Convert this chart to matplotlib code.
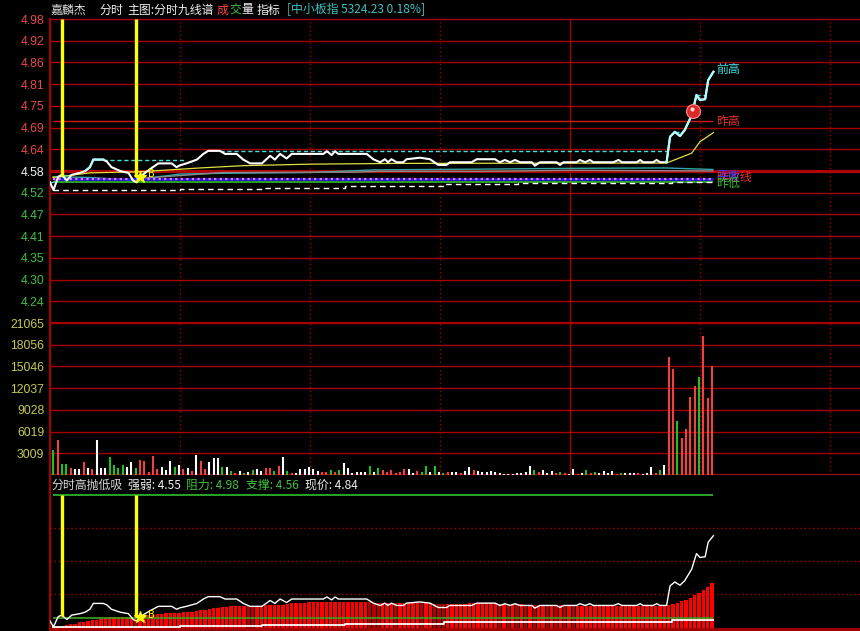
import numpy as np
import matplotlib.pyplot as plt

plt.rcParams['font.family'] = ['Noto Sans CJK SC', 'DejaVu Sans']

W, H = 860, 631
PX_PER_MIN = 4.333
T_MAX = 810 / PX_PER_MIN

# ---- price line vertices (minute, price) ----
price_t = [0.0, 0.8, 1.9, 2.7, 3.9, 5.0, 6.9, 8.1, 9.2, 10.0,
           12.3, 13.1, 14.2, 16.2, 18.1, 19.2, 20.0, 20.8, 23.1, 25.0,
           28.1, 29.2, 30.0, 31.5, 33.9, 35.4, 36.5, 39.2, 40.4, 43.1,
           44.6, 46.2, 48.9, 50.8, 51.9, 53.1, 54.6, 55.8, 63.1, 63.9,
           65.0, 65.8, 66.5, 73.1, 74.6, 76.2, 77.3, 78.0, 78.8, 80.0,
           81.5, 82.3, 85.4, 87.7, 89.6, 91.5, 92.3, 97.3, 98.5, 102.7,
           103.8, 105.0, 106.2, 107.3, 108.5, 111.2, 111.9, 113.1, 116.9, 117.7,
           118.5, 121.5, 122.3, 123.5, 124.6, 125.4, 130.0, 131.2, 132.0, 135.4,
           136.2, 136.9, 139.2, 140.0, 140.8, 142.3, 143.1, 144.2, 145.4, 146.5,
           148.1, 149.2, 150.0, 151.2, 151.9, 153.1]
price_p = [4.55, 4.53, 4.565, 4.57, 4.555, 4.57, 4.575, 4.58, 4.59, 4.61,
           4.61, 4.605, 4.59, 4.58, 4.575, 4.555, 4.55, 4.565, 4.585, 4.60,
           4.60, 4.59, 4.595, 4.60, 4.61, 4.625, 4.633, 4.633, 4.625, 4.625,
           4.61, 4.60, 4.60, 4.62, 4.61, 4.625, 4.613, 4.625, 4.625, 4.632,
           4.622, 4.632, 4.625, 4.625, 4.611, 4.603, 4.611, 4.603, 4.611, 4.603,
           4.603, 4.611, 4.615, 4.611, 4.596, 4.596, 4.603, 4.603, 4.611, 4.611,
           4.603, 4.609, 4.603, 4.609, 4.603, 4.603, 4.594, 4.603, 4.603, 4.596,
           4.603, 4.603, 4.609, 4.603, 4.609, 4.603, 4.603, 4.609, 4.603, 4.603,
           4.609, 4.603, 4.603, 4.609, 4.603, 4.603, 4.670, 4.683, 4.672, 4.688,
           4.727, 4.780, 4.767, 4.769, 4.819, 4.841]

# average price line (yellow)
avg_t = [0.7, 9.2, 20.8, 34.6, 44.6, 60, 80, 142.3, 148.1, 150.0, 153.1]
avg_p = [4.563, 4.575, 4.578, 4.588, 4.594, 4.598, 4.600, 4.601, 4.627, 4.657, 4.681]

# other moving lines
teal_t = [0.7, 9, 19, 30, 40, 60, 75, 100, 120, 142, 153]
teal_p = [4.565, 4.563, 4.556, 4.572, 4.574, 4.576, 4.583, 4.585, 4.587, 4.588, 4.584]
gray_t = [20, 40, 70, 76, 100, 120, 153]
gray_p = [4.560, 4.576, 4.577, 4.579, 4.579, 4.582, 4.580]

# support steps (white dashed / white line in indicator)
sup_t = [0.7, 30, 49, 68, 91, 108, 143.5, 153]
sup_p = [4.531, 4.533, 4.536, 4.541, 4.545, 4.548, 4.552, 4.552]

pre_close = 4.58
prev_high = 4.711
strong = 4.55
resist = 4.98
support = 4.56
last_t = 153.1

price_labels = ['4.98', '4.92', '4.86', '4.81', '4.75', '4.69', '4.64',
                '4.58', '4.52', '4.47', '4.41', '4.35', '4.30', '4.24']
vol_labels = ['21065', '18056', '15046', '12037', '9028', '6019', '3009']
vol_max = 21065

# ---- per-minute volume ----
volume = [3470, 4850, 1530, 1530, 970, 790, 790, 1750, 970, 790,
          4850, 970, 970, 2480, 1390, 970, 1400, 1100, 1800, 1000,
          2030, 1930, 420, 2620, 790, 1060, 650, 1930, 1150, 1390,
          790, 970, 550, 2770, 1930, 790, 1800, 2360, 2360, 1060,
          1150, 550, 320, 550, 320, 420, 700, 830, 550, 970,
          970, 600, 1200, 2500, 550, 300, 300, 830, 830, 1150,
          830, 550, 350, 450, 700, 450, 700, 1700, 1020, 240,
          370, 460, 370, 1250, 460, 1020, 700, 460, 700, 240,
          370, 830, 830, 240, 550, 460, 1250, 460, 1300, 460,
          320, 370, 370, 370, 240, 600, 1060, 700, 550, 370,
          460, 550, 370, 240, 140, 200, 200, 240, 240, 370,
          1250, 700, 370, 700, 240, 550, 240, 460, 230, 150,
          830, 140, 320, 700, 320, 460, 320, 600, 320, 600,
          200, 320, 230, 320, 320, 230, 200, 230, 1160, 320,
          700, 1390, 16400, 14700, 7530, 5180, 6420, 10860, 12340, 13630,
          19320, 10720, 15160]
vol_dir = list("grggrwwrwr" "wwwggggwwg" "rrrrrwwwgw" "rwrwrrwwwg" "wgrwgwgwwr"
               "rgrwgrwwww" "wwrrgrgwww" "wwwgwgrrrr" "rrwwrggwgw" "grwwrwwrww"
               "wwwwwwwwww" "wgrwwwrgrw" "wrwgrgwwww" "rgwwwrwwwr" "gwrrgrrrrg"
               "rrr")

# ---- indicator bars (分时高抛低吸) ----
ind_bar = [4.530, 4.531, 4.533, 4.535, 4.539, 4.541, 4.545, 4.547, 4.550, 4.552,
           4.555, 4.559, 4.561, 4.563, 4.564, 4.565, 4.565, 4.565, 4.565, 4.564,
           4.565, 4.567, 4.569, 4.572, 4.574, 4.574, 4.576, 4.576, 4.577, 4.578,
           4.579, 4.580, 4.582, 4.584, 4.587, 4.589, 4.592, 4.593, 4.595, 4.597,
           4.599, 4.600, 4.601, 4.601, 4.601, 4.600, 4.599, 4.599, 4.599, 4.603,
           4.605, 4.605, 4.605, 4.606, 4.609, 4.610, 4.611, 4.612, 4.613, 4.614,
           4.614, 4.614, 4.615, 4.616, 4.616, 4.616, 4.616, 4.616, 4.616, 4.616,
           4.616, 4.616, 4.616, 4.614, 4.613, 4.612, 4.612, 4.612, 4.612, 4.611,
           4.611, 4.611, 4.611, 4.611, 4.611, 4.610, 4.610, 4.610, 4.609, 4.608,
           4.607, 4.607, 4.607, 4.608, 4.608, 4.609, 4.610, 4.610, 4.610, 4.610,
           4.610, 4.610, 4.610, 4.609, 4.609, 4.608, 4.608, 4.607, 4.607, 4.606,
           4.606, 4.605, 4.605, 4.605, 4.604, 4.604, 4.603, 4.603, 4.602, 4.602,
           4.601, 4.601, 4.601, 4.601, 4.601, 4.601, 4.601, 4.601, 4.601, 4.601,
           4.601, 4.601, 4.601, 4.601, 4.601, 4.601, 4.601, 4.601, 4.601, 4.601,
           4.601, 4.601, 4.604, 4.608, 4.612, 4.617, 4.623, 4.630, 4.638, 4.647,
           4.656, 4.666, 4.679]

signal_idx = [2, 19]
signal_p = [4.568, 4.563]
star_idx = 20
star_p = 4.565
ball_t, ball_p = 148.4, 4.738

GRID = '#a80000'
WHITE = '#f0f0f0'
CYAN = '#40e0e0'
GREEN = '#30c030'
RED_TXT = '#e84848'
YELLOW = '#ffff00'

bar_t = np.arange(len(volume)) + 0.77
price_t = np.array(price_t)
price_p = np.array(price_p)

fig = plt.figure(figsize=(W / 100, H / 100), dpi=100, facecolor='black')


def panel(top, bottom):
    ax = fig.add_axes([50 / W, 1 - bottom / H, 810 / W, (bottom - top) / H])
    ax.set_facecolor('black')
    for s in ax.spines.values():
        s.set_visible(False)
    ax.set_xlim(0, T_MAX)
    ax.set_xticks([])
    ax.tick_params(axis='y', length=0, pad=4)
    ax.axvline(0, color=GRID, lw=1.5, clip_on=False)
    return ax


def vgrid(ax):
    for v in [30, 60, 90, 150, 180]:
        ax.axvline(v, color=GRID, lw=1, ls=(0, (1, 2)))
    ax.axvline(120, color=GRID, lw=1)


# ================= price panel =================
ax1 = panel(19, 323)
ax1.set_ylim(4.18, 4.98)
step = 0.4 / 7
pticks = [pre_close + (7 - k) * step for k in range(14)]
ax1.set_yticks(pticks)
ax1.set_yticklabels(price_labels, fontfamily='Liberation Sans', fontsize=8.8)
for tk, lab in zip(pticks, ax1.get_yticklabels()):
    if tk > pre_close + 1e-6:
        lab.set_color(RED_TXT)
    elif tk < pre_close - 1e-6:
        lab.set_color('#40c040')
    else:
        lab.set_color(WHITE)
for y in pticks:
    ax1.axhline(y, color=GRID, lw=1, clip_on=False)
ax1.axhline(4.18, color=GRID, lw=2.2, clip_on=False)
ax1.axhline(pre_close, color='#b00000', lw=2.2)
vgrid(ax1)
ax1.hlines(prev_high, 0.7, last_t, color='#d01818', lw=1)

ax1.plot(teal_t, teal_p, color='#30a8a8', lw=1)
ax1.plot(gray_t, gray_p, color='#8a8a8a', lw=1)
ax1.plot(avg_t, avg_p, color='#e0e040', lw=0.9)
ax1.hlines(support, 0.7, last_t, color='#2020ff', lw=1.8)
ax1.hlines(support, 0.7, last_t, color='#ff70ff', lw=1.6, ls=(0, (1, 1.5)))
ax1.hlines(strong, 0.7, last_t, color=GREEN, lw=1.2)
ax1.plot(sup_t, sup_p, color='white', lw=1, ls=(0, (4, 3)), drawstyle='steps-post')

# running high, dashed where price is below it
run_hi = np.maximum.accumulate(price_p)
below = price_p < run_hi - 1e-9
keep = below | np.append(below[1:], False)
hi_line = np.where(keep, run_hi, np.nan)
ax1.plot(price_t, hi_line, color=CYAN, lw=1, ls=(0, (3, 2)))

ax1.plot(price_t, price_p, color='white', lw=1.5)
for a, b in [(8.1, 12.3), (142.3, 153.1)]:
    m = (price_t >= a - 1e-6) & (price_t <= b + 1e-6)
    ax1.plot(price_t[m], price_p[m], color='#a8ffff', lw=1.5)

sig_t = np.array(signal_idx) + 0.77
ax1.vlines(sig_t, signal_p, 4.98, color=YELLOW, lw=2.4)
ax1.plot(star_idx + 0.77, star_p, marker='*', color=YELLOW, ms=9, ls='none')
ax1.text(star_idx + 2.6, star_p + 0.008, 'B', color=YELLOW, fontsize=7,
         fontfamily='DejaVu Sans', va='center')

ax1.plot(ball_t, ball_p, marker='o', ms=10, mfc='#d82828', mec='#ff9090', mew=0.8, ls='none')
ax1.plot(ball_t - 0.3, ball_p + 0.006, marker='o', ms=3, mfc='#ffd0d0', mec='none', ls='none')

lab_t = 153.7
ax1.text(lab_t, 4.848, '前高', color=CYAN, fontsize=8.6, va='center')
ax1.text(lab_t, prev_high, '昨高', color='#e83030', fontsize=8.6, va='center')
ax1.text(lab_t, 4.562, '昨收线', color='#e83030', fontsize=8.6, va='center')
ax1.text(lab_t, 4.566, '平衡', color='#3838ff', fontsize=8.6, va='center')
ax1.text(lab_t, 4.548, '昨低', color=GREEN, fontsize=8.6, va='center')

# ================= volume panel =================
ax2 = panel(323, 475)
ax2.set_ylim(0, vol_max)
vticks = [vol_max * (7 - k) / 7 for k in range(7)]
ax2.set_yticks(vticks)
ax2.set_yticklabels(vol_labels, fontfamily='Liberation Sans', fontsize=8.8, color='#c8c850')
for y in vticks:
    ax2.axhline(y, color=GRID, lw=1)
ax2.axhline(0, color=GRID, lw=1.5, clip_on=False)
vgrid(ax2)
cmap = {'r': '#f04040', 'g': '#20c020', 'w': '#ffffff'}
ax2.vlines(bar_t, 0, volume, colors=[cmap[c] for c in vol_dir], lw=1.5)

# ================= indicator panel =================
ax3 = panel(475, 629)
ind_lo = 4.98 - (629 - 495) / 293
ind_hi = 4.98 + 20 / 293
ax3.set_ylim(ind_lo, ind_hi)
ax3.set_yticks([])
span = (627 - 495) / 293
for k in range(1, 4):
    ax3.axhline(4.98 - k * span / 4, color=GRID, lw=1, ls=(0, (1, 2)))
ax3.axhline(ind_lo, color=GRID, lw=2, clip_on=False)

ind = np.array(ind_bar)
falling = np.append(False, ind[1:] < ind[:-1])
ax3.bar(bar_t, ind - ind_lo, bottom=ind_lo, width=0.72,
        color=np.where(falling, '#b00000', '#ff0000'))
ax3.hlines(resist, 0.7, last_t, color=GREEN, lw=1.2)
ax3.hlines(support, 0.7, last_t, color='#40a020', lw=1.2)
ax3.plot(sup_t, sup_p, color='white', lw=1.3, drawstyle='steps-post')
ax3.plot(price_t, price_p, color='white', lw=1)
ax3.vlines(sig_t, signal_p, 4.98, color=YELLOW, lw=2.4)
ax3.plot(star_idx + 0.77, star_p, marker='*', color=YELLOW, ms=9, ls='none')
ax3.text(star_idx + 2.6, star_p + 0.006, 'B', color=YELLOW, fontsize=7,
         fontfamily='DejaVu Sans', va='center')

# ================= header texts =================
def ftext(x, y, s, color, size=8.6):
    fig.text(x / W, 1 - y / H, s, color=color, fontsize=size, va='center', ha='left')


ftext(51, 10, '嘉麟杰', '#e0e0e0')
ftext(99, 10, '分时', WHITE)
ftext(127, 10, '主图:分时九线谱', WHITE)
ftext(217, 10, '成', '#ff4040')
ftext(229, 10, '交', '#40c040')
ftext(241, 10, '量', WHITE)
ftext(257, 10, '指标', WHITE)
ftext(287, 10, '[中小板指 5324.23 0.18%]', '#40c0c0')

ftext(51, 485, '分时高抛低吸', '#d8d8d8')
ftext(128, 485, '强弱: 4.55', WHITE)
ftext(186, 485, '阻力: 4.98', '#40c040')
ftext(246, 485, '支撑: 4.56', '#40c040')
ftext(305, 485, '现价: 4.84', WHITE)

fig.savefig('out.png', dpi=100, facecolor='black')
